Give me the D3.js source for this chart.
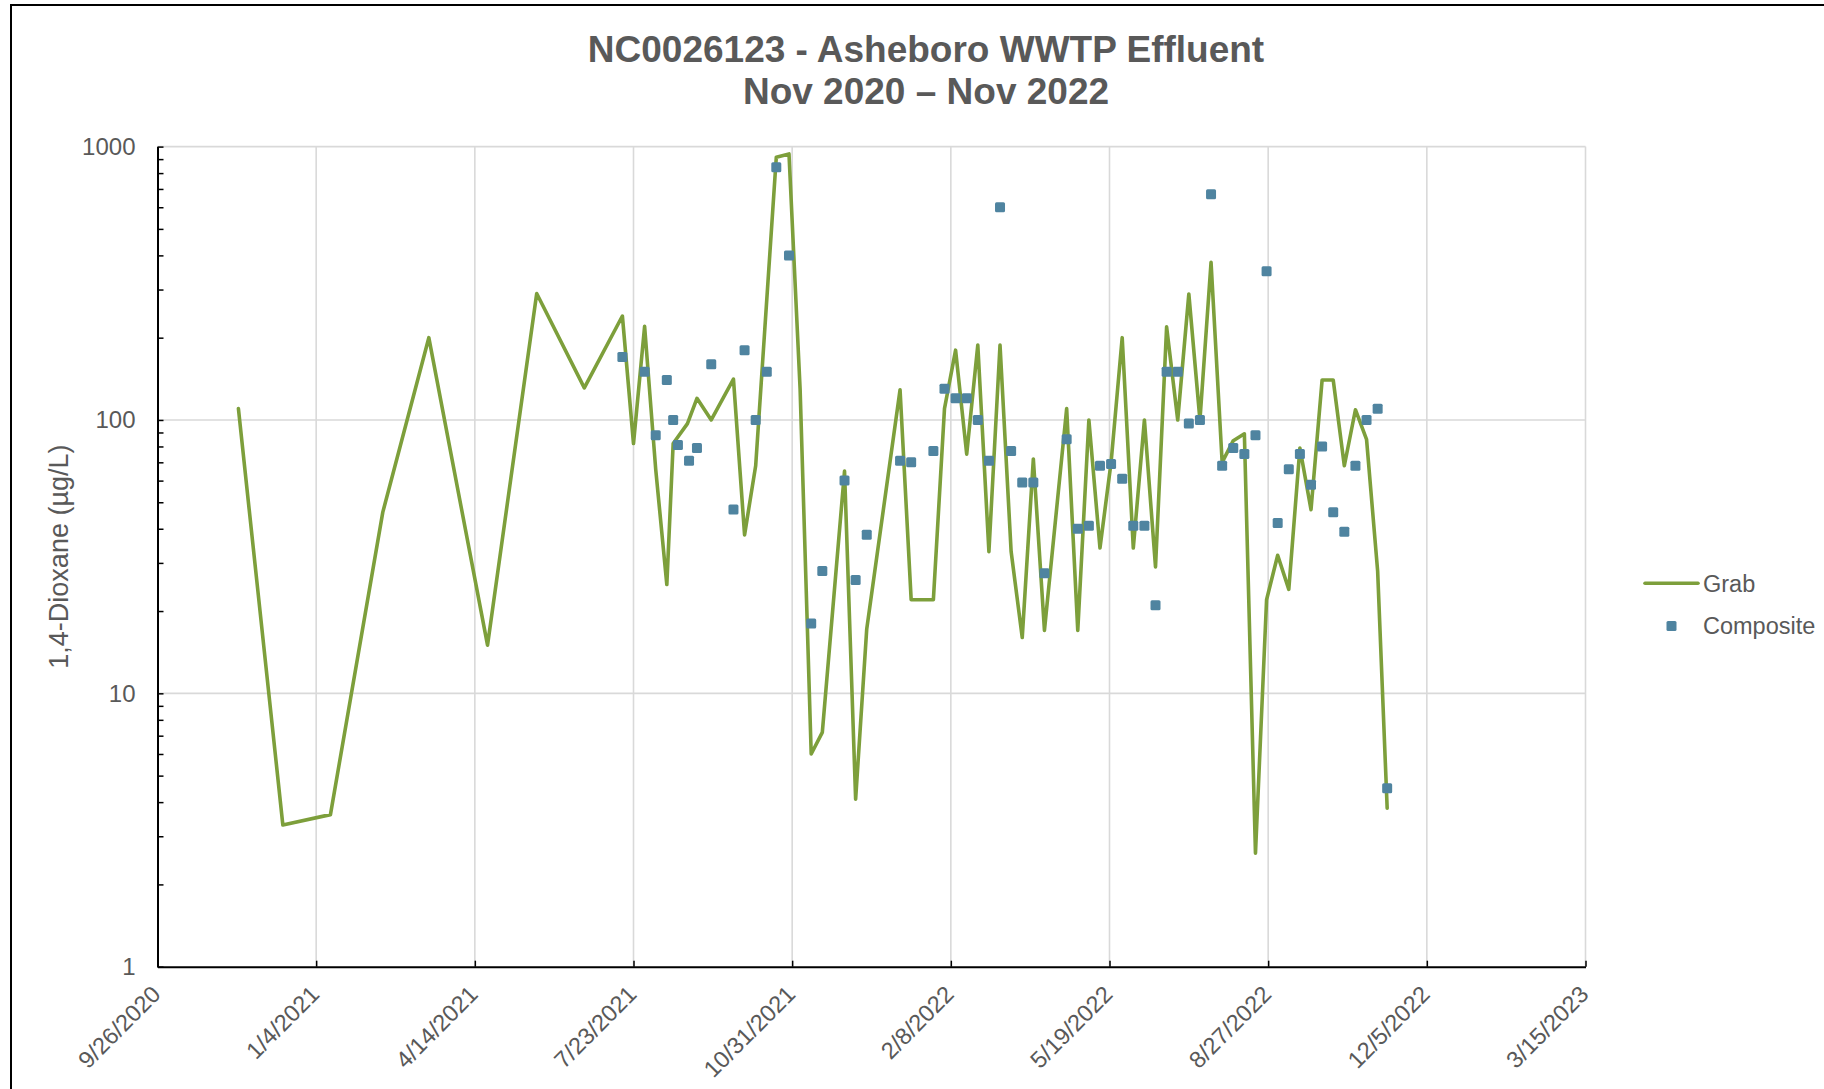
<!DOCTYPE html>
<html><head><meta charset="utf-8">
<script src="https://cdn.jsdelivr.net/npm/d3@7"></script>
<style>body{margin:0;background:#fff;overflow:hidden}</style>
</head><body>
<svg id="c" width="1824" height="1089"></svg>
<script>
// ---- data ----
const titleLines = ["NC0026123 - Asheboro WWTP Effluent", "Nov 2020 \u2013 Nov 2022"];
const yLabel = "1,4-Dioxane (\u00b5g/L)";
const seriesNames = ["Grab", "Composite"];
const xDomain = ["2020-09-26", "2023-03-15"];
const xTickStepDays = 100;
const yTicks = [1, 10, 100, 1000];

const grabDates = ["2020-11-16","2020-12-14","2021-01-13","2021-02-15","2021-03-16","2021-04-22","2021-05-23","2021-06-22",
 "2021-07-16","2021-07-23","2021-07-30","2021-08-06","2021-08-13","2021-08-17","2021-08-26","2021-09-01","2021-09-10",
 "2021-09-24","2021-10-01","2021-10-08","2021-10-21","2021-10-29","2021-11-05","2021-11-12","2021-11-19","2021-12-03",
 "2021-12-10","2021-12-17","2022-01-07","2022-01-14","2022-01-28","2022-02-04","2022-02-11","2022-02-18","2022-02-25",
 "2022-03-04","2022-03-11","2022-03-18","2022-03-25","2022-04-01","2022-04-08","2022-04-22","2022-04-29","2022-05-06",
 "2022-05-13","2022-05-20","2022-05-27","2022-06-03","2022-06-10","2022-06-17","2022-06-24","2022-07-01","2022-07-08",
 "2022-07-15","2022-07-22","2022-07-29","2022-08-05","2022-08-12","2022-08-19","2022-08-26","2022-09-02","2022-09-09",
 "2022-09-16","2022-09-23","2022-09-30","2022-10-07","2022-10-14","2022-10-21","2022-10-28","2022-11-04","2022-11-10"];
const grabValues = [110,3.3,3.6,46,200,15,290,131,
 240,82,220,66,25,82,97,120,100,
 141,38,68,915,940,130,6.0,7.2,65,
 4.1,17.2,129,22,22,110,180,75,188,
 33,188,33,16,72,17,110,17,100,
 34,70,200,34,100,29,219,100,289,
 100,377,70,84,89,2.6,22,32,24,
 79,47,140,140,68,109,85,28,3.8];

const compDates = ["2021-07-16","2021-07-30","2021-08-06","2021-08-13","2021-08-17","2021-08-20","2021-08-27","2021-09-01",
 "2021-09-10","2021-09-24","2021-10-01","2021-10-08","2021-10-15","2021-10-21","2021-10-29","2021-11-12","2021-11-19",
 "2021-12-03","2021-12-10","2021-12-17","2022-01-07","2022-01-14","2022-01-28","2022-02-04","2022-02-11","2022-02-18",
 "2022-02-25","2022-03-04","2022-03-11","2022-03-18","2022-03-25","2022-04-01","2022-04-08","2022-04-22","2022-04-29",
 "2022-05-06","2022-05-13","2022-05-20","2022-05-27","2022-06-03","2022-06-10","2022-06-17","2022-06-24","2022-07-01",
 "2022-07-08","2022-07-15","2022-07-22","2022-07-29","2022-08-05","2022-08-12","2022-08-19","2022-08-26","2022-09-02",
 "2022-09-09","2022-09-16","2022-09-23","2022-09-30","2022-10-07","2022-10-14","2022-10-21","2022-10-28","2022-11-04",
 "2022-11-10"];
const compValues = [170,150,88,140,100,81,71,79,
 160,47,180,100,150,840,400,18,28,
 60,26,38,71,70,77,130,120,120,
 100,71,600,77,59,59,27.5,85,40,
 41,68,69,61,41,41,21,150,150,
 97,100,670,68,79,75,88,350,42,
 66,75,58,80,46,39,68,100,110,
 4.5];

// ---- layout / style ----
const GREEN = "#7d9f3b", BLUE = "#4f84a0", TXT = "#595959", GRID = "#d9d9d9";
const X0 = 157.5, X1 = 1585.5, YB = 966.7, YT = 146.6;
const font = "Liberation Sans, Arial, sans-serif";

const parse = d3.utcParse("%Y-%m-%d");
const fmt = d3.utcFormat("%-m/%-d/%Y");
const start = parse(xDomain[0]);
const x = d3.scaleUtc().domain(xDomain.map(parse)).range([X0, X1]);
const y = d3.scaleLog().domain([yTicks[0], yTicks[yTicks.length-1]]).range([YB, YT]);

const xTicks = d3.range(0, d3.utcDay.count(start, parse(xDomain[1])) + 1, xTickStepDays)
  .map(d => d3.utcDay.offset(start, d));

const grab = grabDates.map((d,i) => ({date: parse(d), v: grabValues[i]}));
const comp = compDates.map((d,i) => ({date: parse(d), v: compValues[i]}));

const svg = d3.select("#c");
svg.append("rect").attr("width",1824).attr("height",1089).attr("fill","#fff");
svg.append("rect").attr("x",11).attr("y",5).attr("width",1900).attr("height",1200)
  .attr("fill","none").attr("stroke","#000").attr("stroke-width",2);

// title
titleLines.forEach((t,i) => {
  svg.append("text").attr("x",926).attr("y",62 + i*41.5).attr("text-anchor","middle")
    .attr("font-family",font).attr("font-weight","bold")
    .attr("font-size",37).attr("fill",TXT).text(t);
});

// gridlines
const g = svg.append("g");
g.selectAll("line.hg").data(yTicks.slice(1)).join("line")
  .attr("x1",X0).attr("x2",X1).attr("y1",d=>y(d)).attr("y2",d=>y(d))
  .attr("stroke",GRID).attr("stroke-width",1.6);
g.selectAll("line.vg").data(xTicks.slice(1)).join("line")
  .attr("x1",d=>x(d)).attr("x2",d=>x(d)).attr("y1",YT).attr("y2",YB)
  .attr("stroke",GRID).attr("stroke-width",1.6);

// y axis: labels
const yLab = svg.append("g").attr("transform",`translate(${X0},0)`)
  .call(d3.axisLeft(y).tickValues(yTicks).tickFormat(d3.format("d")).tickSize(0).tickPadding(22));
yLab.select(".domain").remove();
yLab.selectAll("text").attr("font-family",font).attr("font-size",24).attr("fill",TXT);

// y axis: inside ticks (major + minor)
const allY = [];
for (let dec = 1; dec < 1000; dec *= 10) for (let k = 1; k < 10; k++) allY.push(dec*k);
allY.push(1000);
const yTk = svg.append("g").attr("transform",`translate(${X0},0)`)
  .call(d3.axisRight(y).tickValues(allY).tickFormat("").tickSize(6).tickSizeOuter(0));
yTk.select(".domain").attr("stroke","#000").attr("stroke-width",2);
yTk.selectAll(".tick line").attr("stroke","#000").attr("stroke-width",1.5);

// x axis: ticks inside
const xTk = svg.append("g").attr("transform",`translate(0,${YB})`)
  .call(d3.axisTop(x).tickValues(xTicks).tickFormat("").tickSize(6).tickSizeOuter(0));
xTk.select(".domain").attr("stroke","#000").attr("stroke-width",2);
xTk.selectAll(".tick line").attr("stroke","#000").attr("stroke-width",1.5);

// x labels rotated
const xLab = svg.append("g").attr("transform",`translate(0,${YB})`)
  .call(d3.axisBottom(x).tickValues(xTicks).tickFormat(fmt).tickSize(0));
xLab.select(".domain").remove();
xLab.selectAll("text").attr("font-family",font).attr("font-size",23.5).attr("fill",TXT)
  .attr("text-anchor","end").attr("dy",null).attr("y",0)
  .attr("transform","translate(4,29) rotate(-45)");

// y axis title
svg.append("text").attr("transform","translate(68,556.6) rotate(-90)").attr("text-anchor","middle")
  .attr("font-family",font).attr("font-size",27).attr("fill",TXT).text(yLabel);

// grab line
const line = d3.line().x(d=>x(d.date)).y(d=>y(d.v));
svg.append("path").datum(grab).attr("d",line).attr("fill","none")
  .attr("stroke",GREEN).attr("stroke-width",3.6).attr("stroke-linejoin","round").attr("stroke-linecap","round");

// composite markers
const S = 10;
svg.append("g").selectAll("rect").data(comp).join("rect")
  .attr("x",d=>x(d.date)-S/2).attr("y",d=>y(d.v)-S/2).attr("width",S).attr("height",S)
  .attr("rx",1.5).attr("fill",BLUE);

// legend
const lg = svg.append("g");
lg.append("line").attr("x1",1645).attr("x2",1698).attr("y1",583.3).attr("y2",583.3)
  .attr("stroke",GREEN).attr("stroke-width",3.6).attr("stroke-linecap","round");
lg.append("text").attr("x",1703).attr("y",591.7).attr("font-family",font).attr("font-size",23.5)
  .attr("fill",TXT).text(seriesNames[0]);
lg.append("rect").attr("x",1671.5-S/2).attr("y",626-S/2).attr("width",S).attr("height",S)
  .attr("rx",1.5).attr("fill",BLUE);
lg.append("text").attr("x",1703).attr("y",634.3).attr("font-family",font).attr("font-size",23.5)
  .attr("fill",TXT).text(seriesNames[1]);
</script>
</body></html>
